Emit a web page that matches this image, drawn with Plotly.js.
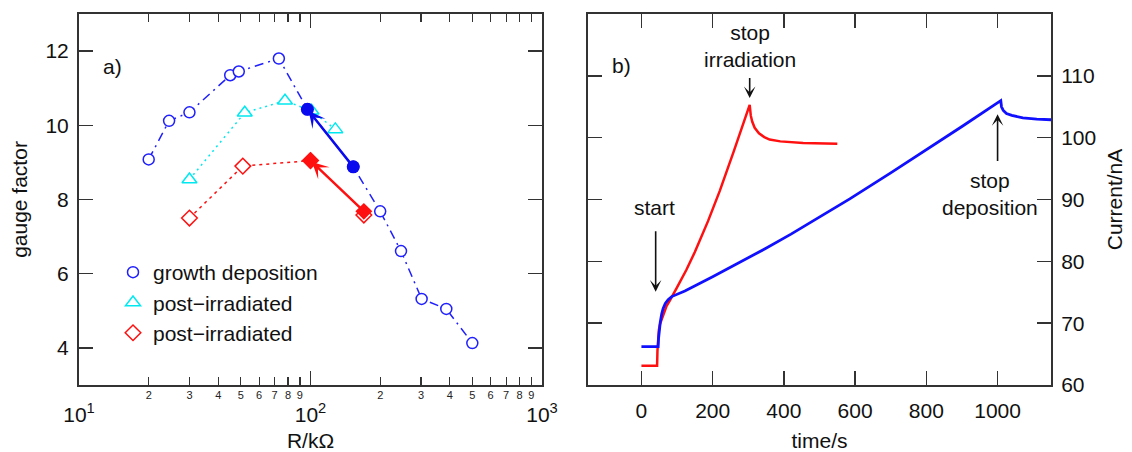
<!DOCTYPE html>
<html>
<head>
<meta charset="utf-8">
<script src="https://cdn.plot.ly/plotly-3.0.1.min.js"></script>
<style>html,body{margin:0;padding:0;background:#fff;}#chart{width:1132px;height:452px;}</style>
</head>
<body>
<div id="chart"></div>
<script>
// ---- Panel a) data: gauge factor vs resistance (kOhm) ----
const growthR  = [20, 24.5, 30, 45, 49, 73, 97, 153, 200, 246, 302, 386, 500];
const growthGF = [9.08, 10.12, 10.35, 11.35, 11.45, 11.8, 10.43, 8.88, 7.68, 6.61, 5.32, 5.05, 4.13];
const cyanR  = [30, 52, 77.6, 101, 128];
const cyanGF = [8.54, 10.34, 10.66, 10.39, 9.89];
const redR  = [30, 51, 100, 170];
const redGF = [7.5, 8.9, 9.05, 7.58];
const blueFilledR  = [153, 97];
const blueFilledGF = [8.88, 10.43];
const redFilledR  = [170, 100];
const redFilledGF = [7.68, 9.05];
const legendNames = ["growth deposition", "post\u2212irradiated", "post\u2212irradiated"];

// ---- Panel b) data: current vs time ----
const redT = [0, 44, 45, 47, 49, 52, 56, 61, 70, 80, 89, 100, 126, 150, 187, 220, 260, 304, 307, 311, 318, 330, 345, 360, 390, 454, 550];
const redI = [63.1, 63.1, 65.5, 67.5, 68.9, 69.8, 70.5, 71.1, 72.7, 73.7, 74.6, 75.8, 78.6, 81.5, 86.5, 91.4, 97.9, 105.3, 103.6, 102.6, 101.6, 100.7, 100.1, 99.7, 99.4, 99.15, 99.0];
const blueT = [0, 47, 48, 50, 53, 57, 61, 67, 75, 85, 98, 122, 200, 280, 346, 420, 491, 585, 700, 800, 900, 1009, 1011, 1016, 1025, 1040, 1071, 1110, 1150];
const blueI = [66.2, 66.2, 67.5, 68.8, 70.2, 71.5, 72.4, 73.2, 73.8, 74.3, 74.6, 75.2, 77.5, 79.9, 82.0, 84.4, 86.8, 90.1, 94.3, 98.0, 101.8, 106.0, 105.0, 104.4, 103.9, 103.6, 103.2, 103.0, 102.9];

// ---- Tick labels ----
const majorR = [10, 100, 1000];
const majorRText = ["10<sup>1</sup>", "10<sup>2</sup>", "10<sup>3</sup>"];
const minorR = [20,30,40,50,60,70,80,90,200,300,400,500,600,700,800,900];
const minorRText = ["2","3","4","5","6","7","8","9","2","3","4","5","6","7","8","9"];
const gfTicks = [4, 6, 8, 10, 12];
const timeTicks = [0, 200, 400, 600, 800, 1000];
const currentTicks = [60, 70, 80, 90, 100, 110];

const FONT = "Liberation Sans, Arial, Helvetica, sans-serif";
const BLUE = "#1f1fff", CYAN = "#00e8f0", RED = "#ff1010", AXC = "#333333";

const traces = [
  // line traces (no legend)
  {x: growthR, y: growthGF, xaxis: "x", yaxis: "y", mode: "lines", showlegend: false, hoverinfo: "skip",
   line: {color: BLUE, width: 1.5, dash: "9px,5px,2px,5px"}},
  {x: cyanR, y: cyanGF, xaxis: "x", yaxis: "y", mode: "lines", showlegend: false, hoverinfo: "skip",
   line: {color: CYAN, width: 1.5, dash: "2px,4px"}},
  {x: redR.slice(0, 3), y: redGF.slice(0, 3), xaxis: "x", yaxis: "y", mode: "lines", showlegend: false, hoverinfo: "skip",
   line: {color: RED, width: 1.5, dash: "3px,4px"}},
  // marker traces (legend)
  {x: growthR, y: growthGF, xaxis: "x", yaxis: "y", mode: "markers", name: legendNames[0],
   marker: {symbol: "circle", size: 11, color: "#ffffff", line: {width: 1.5, color: BLUE}}},
  {x: cyanR, y: cyanGF, xaxis: "x", yaxis: "y", mode: "markers", name: legendNames[1],
   marker: {symbol: "triangle-up", size: 13, color: "#ffffff", line: {width: 1.5, color: CYAN}}},
  {x: redR, y: redGF, xaxis: "x", yaxis: "y", mode: "markers", name: legendNames[2],
   marker: {symbol: "diamond", size: 12, color: "#ffffff", line: {width: 1.5, color: RED}}},
  // filled points
  {x: blueFilledR, y: blueFilledGF, xaxis: "x", yaxis: "y", mode: "markers", showlegend: false,
   marker: {symbol: "circle", size: 13, color: "#0a0aee"}},
  {x: redFilledR, y: redFilledGF, xaxis: "x", yaxis: "y", mode: "markers", showlegend: false,
   marker: {symbol: "diamond", size: 13, color: RED}},
  // invisible trace to host the minor-label axis
  {x: [10], y: [null], xaxis: "x3", yaxis: "y", mode: "markers", showlegend: false, hoverinfo: "skip"},
  // panel b
  {x: redT, y: redI, xaxis: "x2", yaxis: "y2", mode: "lines", showlegend: false,
   line: {color: RED, width: 2.5}},
  {x: blueT, y: blueI, xaxis: "x2", yaxis: "y2", mode: "lines", showlegend: false,
   line: {color: "#1010ff", width: 2.8}}
];

const L = 79, R = 81, T = 14, B = 67, W = 1132, H = 452;
const PW = W - L - R, PH = H - T - B;
const px = v => (v - L) / PW;
const py = v => (H - B - v) / PH;

const axisCommon = {
  showline: true, linecolor: AXC, linewidth: 2, mirror: "ticks",
  ticks: "inside", ticklen: 14, tickwidth: 1.5, tickcolor: AXC,
  showgrid: false, zeroline: false, automargin: false,
  tickfont: {family: FONT, size: 21, color: "#111"},
  title: {font: {family: FONT, size: 21, color: "#111"}}
};

const redPeak = redI.indexOf(Math.max(...redI));
const bluePeak = blueI.indexOf(Math.max(...blueI));

const layout = {
  width: W, height: H,
  margin: {l: L, r: R, t: T, b: B, pad: 0},
  paper_bgcolor: "#fff", plot_bgcolor: "#fff",
  font: {family: FONT, size: 21, color: "#111"},
  showlegend: true,
  legend: {x: px(113), y: py(252), xanchor: "left", yanchor: "top",
    bgcolor: "rgba(0,0,0,0)", font: {family: FONT, size: 21, color: "#111"}},
  xaxis: Object.assign({}, axisCommon, {
    domain: [0, px(542)], anchor: "y", type: "log", range: [1, 3],
    tickmode: "array", tickvals: majorR, ticktext: majorRText, ticklabelstandoff: 10,
    minor: {tickmode: "array", tickvals: minorR, ticks: "inside", ticklen: 8, tickwidth: 1.2, tickcolor: AXC},
    title: {text: "R/k\u03a9", font: {family: FONT, size: 21, color: "#111"}, standoff: 12}
  }),
  xaxis3: {
    overlaying: "x", anchor: "y", type: "log", range: [1, 3], domain: [0, px(542)],
    tickmode: "array", tickvals: minorR, ticktext: minorRText, ticks: "", showline: false,
    showgrid: false, zeroline: false, automargin: false, ticklabelstandoff: 2,
    tickfont: {family: FONT, size: 11, color: "#222"}
  },
  yaxis: Object.assign({}, axisCommon, {
    domain: [0, 1], anchor: "x", range: [3, 13],
    tickmode: "array", tickvals: gfTicks, ticklabelstandoff: 4,
    title: {text: "gauge factor", font: {family: FONT, size: 21, color: "#111"}, standoff: 12}
  }),
  xaxis2: Object.assign({}, axisCommon, {
    domain: [px(588), 1], anchor: "y2", range: [-150, 1150],
    tickmode: "array", tickvals: timeTicks, ticklabelstandoff: 6,
    title: {text: "time/s", font: {family: FONT, size: 21, color: "#111"}, standoff: 14}
  }),
  yaxis2: Object.assign({}, axisCommon, {
    domain: [0, 1], anchor: "x2", side: "right", range: [60, 120],
    tickmode: "array", tickvals: currentTicks, ticklabelstandoff: 4,
    title: {text: "Current/nA", font: {family: FONT, size: 21, color: "#111"}, standoff: 12}
  }),
  annotations: [
    {xref: "paper", yref: "paper", x: px(101), y: py(53), xanchor: "left", text: "a)", showarrow: false,
     font: {family: FONT, size: 21, color: "#111"}},
    {xref: "paper", yref: "paper", x: px(621), y: py(52), text: "b)", showarrow: false,
     font: {family: FONT, size: 21, color: "#111"}},
    // arrows panel a
    {xref: "x", yref: "y", axref: "x", ayref: "y",
     x: Math.log10(blueFilledR[1]), y: blueFilledGF[1], ax: Math.log10(blueFilledR[0]), ay: blueFilledGF[0],
     text: "", showarrow: true, arrowhead: 3, arrowsize: 1.1, arrowwidth: 2.5, arrowcolor: "#0a0aee", standoff: 2},
    {xref: "x", yref: "y", axref: "x", ayref: "y",
     x: Math.log10(redFilledR[1]), y: redFilledGF[1], ax: Math.log10(redFilledR[0]), ay: redFilledGF[0],
     text: "", showarrow: true, arrowhead: 3, arrowsize: 1.1, arrowwidth: 2.5, arrowcolor: RED, standoff: 2},
    // panel b text + arrows
    {xref: "x2", yref: "y2", x: 37, y: 88.7, text: "start", showarrow: false,
     font: {family: FONT, size: 21, color: "#111"}},
    {xref: "x2", yref: "y2", axref: "x2", ayref: "y2", x: 40, y: 75.1, ax: 40, ay: 85.1,
     text: "", showarrow: true, arrowhead: 3, arrowsize: 1.2, arrowwidth: 1.6, arrowcolor: "#111"},
    {xref: "x2", yref: "y2", x: redT[redPeak], y: 114.9, text: "stop<br>irradiation", showarrow: false,
     font: {family: FONT, size: 21, color: "#111"}},
    {xref: "x2", yref: "y2", axref: "x2", ayref: "y2", x: redT[redPeak], y: 106.4, ax: redT[redPeak], ay: 109.9,
     text: "", showarrow: true, arrowhead: 3, arrowsize: 1.2, arrowwidth: 1.6, arrowcolor: "#111"},
    {xref: "x2", yref: "y2", x: 978, y: 90.9, text: "stop<br>deposition", showarrow: false,
     font: {family: FONT, size: 21, color: "#111"}},
    {xref: "x2", yref: "y2", axref: "x2", ayref: "y2", x: blueT[bluePeak] - 9, y: 103.8, ax: blueT[bluePeak] - 9, ay: 96.0,
     text: "", showarrow: true, arrowhead: 3, arrowsize: 1.2, arrowwidth: 1.6, arrowcolor: "#111"}
  ]
};

Plotly.newPlot("chart", traces, layout, {displayModeBar: false, staticPlot: true});
</script>
</body>
</html>
